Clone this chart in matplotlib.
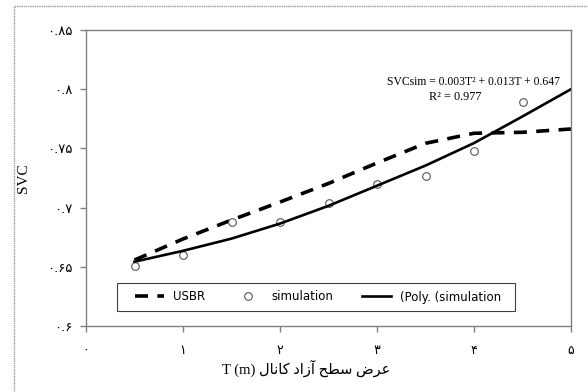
import matplotlib
matplotlib.use("Agg")
import matplotlib.pyplot as plt
from matplotlib.patches import Rectangle

# T (m)
t_sim = [0.5, 1.0, 1.5, 2.0, 2.5, 3.0, 3.5, 4.0, 4.5]
svc_sim = [0.6507, 0.6600, 0.6876, 0.6876, 0.7036, 0.7196, 0.7264, 0.7481, 0.7894]

t_line = [0.5, 1.0, 1.5, 2.0, 2.5, 3.0, 3.5, 4.0, 4.5, 5.0]
svc_usbr = [0.6557, 0.6735, 0.6895, 0.7047, 0.7204, 0.7377, 0.7543, 0.7628, 0.7636, 0.7664]
svc_poly = [0.6543, 0.6635, 0.6738, 0.6865, 0.7015, 0.7185, 0.7355, 0.7545, 0.7770, 0.8000]

y_ticks = [0.6, 0.65, 0.7, 0.75, 0.8, 0.85]
y_labels = ["۰.۶", "۰.۶۵", "۰.۷", "۰.۷۵", "۰.۸", "۰.۸۵"]
x_ticks = [0, 1, 2, 3, 4, 5]
x_labels = ["۰", "۱", "۲", "۳", "۴", "۵"]

# "عرض سطح آزاد کانال" in joined presentation forms, visual (left-to-right) order
fa_label = ("\uFEDD\uFE8E\uFEE7\uFE8E\uFB90 "
            "\uFEA9\uFE8D\uFEAF\uFE81 "
            "\uFEA2\uFEC4\uFEB3 "
            "\uFEBD\uFEAE\uFECB")
x_title = "T (m) " + fa_label

fig = plt.figure(figsize=(5.88, 3.92), dpi=100)
W, H = 588, 392
ax = fig.add_axes([86 / W, 1 - 326 / H, (571 - 86) / W, (326 - 30) / H])

# outer chart frame (right/bottom edges fall outside the image)
fig.patches.append(Rectangle((14 / W, -0.1), 1.2, 1.1 - 6 / H, transform=fig.transFigure,
                             fill=False, edgecolor="#9a9a9a", lw=1.0, ls=(0, (1, 0.6))))

ax.plot(t_line, svc_usbr, color="black", lw=2.6, dashes=(3.6, 2.6), label="USBR")
ax.plot(t_sim, svc_sim, ls="none", marker="o", ms=5.5, mfc="white", mec="#555555",
        mew=0.8, label="simulation")
ax.plot(t_line, svc_poly, color="black", lw=1.9, label="(Poly. (simulation")

ax.set_xlim(0, 5)
ax.set_ylim(0.6, 0.85)
ax.set_xticks(x_ticks)
ax.set_xticklabels(x_labels, fontfamily="DejaVu Sans", fontsize=9)
ax.set_yticks(y_ticks)
ax.set_yticklabels(y_labels, fontfamily="DejaVu Sans", fontsize=9.5)
ax.tick_params(axis="both", colors="#808080", length=4, width=1, labelcolor="black")
ax.tick_params(axis="x", pad=9)
ax.tick_params(axis="y", pad=6)
for s in ax.spines.values():
    s.set_color("#808080")
    s.set_linewidth(1.0)

ax.set_ylabel("SVC", fontfamily="Liberation Serif", fontsize=11, labelpad=12)
ax.set_xlabel(x_title, fontfamily=["Liberation Serif", "DejaVu Sans"], fontsize=10.5)
ax.xaxis.set_label_coords(0.453, -0.115)

ax.text(3.99, 0.806, "SVCsim = 0.003T² + 0.013T + 0.647", fontfamily="Liberation Serif",
        fontsize=8.4, ha="center", va="center")
ax.text(3.81, 0.7932, "R² = 0.977", fontfamily="Liberation Serif",
        fontsize=8.8, ha="center", va="center")

# legend box drawn separately so it can be wider than its entries
box_x0, box_x1, box_top, box_bot = 117, 515, 283, 311
ax.add_patch(Rectangle(((box_x0 - 86) / 485, (326 - box_bot) / 296),
                       (box_x1 - box_x0) / 485, (box_bot - box_top) / 296,
                       transform=ax.transAxes, facecolor="white", edgecolor="#404040",
                       lw=0.8, zorder=4))
leg = ax.legend(loc="center", bbox_to_anchor=((318 - 86) / 485, (326 - 297) / 296),
                ncol=3, frameon=False, prop={"family": "DejaVu Sans", "size": 8.5},
                handlelength=2.5, borderpad=0.3, borderaxespad=0, columnspacing=2.4,
                handletextpad=0.75)
leg.set_zorder(5)

fig.savefig("out.png", dpi=100)
